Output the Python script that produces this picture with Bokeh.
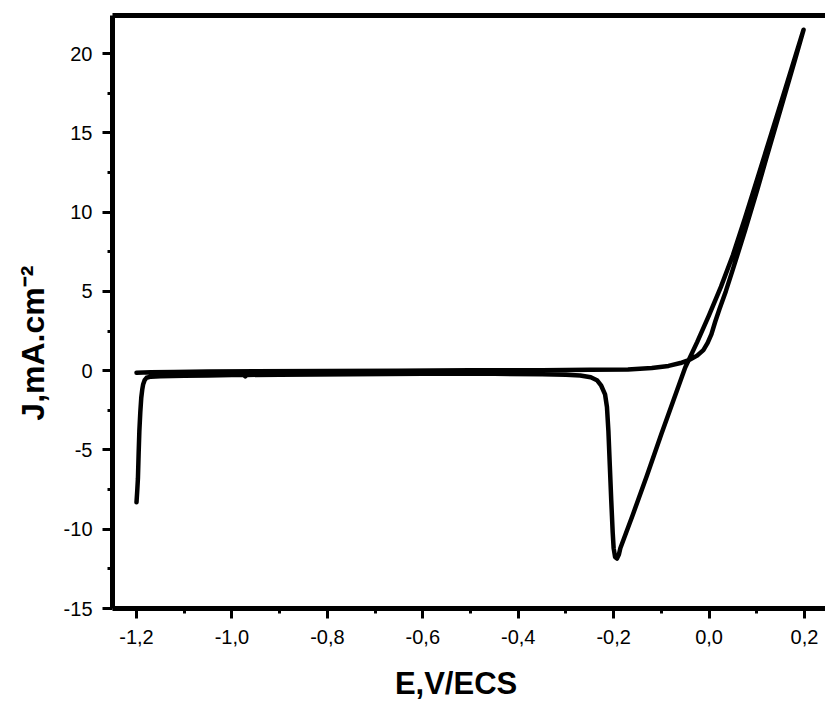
from bokeh.plotting import figure
from bokeh.models import Range1d, FixedTicker, LinearAxis
from bokeh.embed import file_html
from bokeh.resources import INLINE

# ---- data (E in V/ECS, J in mA.cm-2) ----
e_start = [-1.200, -1.1985, -1.197, -1.1955, -1.194, -1.192, -1.190, -1.188, -1.186, -1.183, -1.179, -1.170]
j_start = [-8.3, -7.6, -6.8, -5.2, -3.8, -2.6, -1.7, -1.2, -0.85, -0.6, -0.45, -0.38]

e_low = [-1.15, -1.10, -1.05, -1.0, -0.975, -0.972, -0.969, -0.9, -0.75, -0.6, -0.45, -0.35, -0.30,
         -0.27, -0.248, -0.235, -0.226, -0.218, -0.214, -0.211, -0.208, -0.205, -0.202, -0.200,
         -0.197, -0.193, -0.189]
j_low = [-0.35, -0.32, -0.30, -0.28, -0.27, -0.36, -0.27, -0.25, -0.22, -0.20, -0.20, -0.22, -0.25,
         -0.30, -0.42, -0.60, -0.95, -1.5, -2.3, -3.8, -6.0, -8.2, -10.2, -11.2,
         -11.75, -11.85, -11.6]

e_rise = [-0.186, -0.16, -0.13, -0.10, -0.075, -0.05, -0.025, 0.0, 0.025, 0.05, 0.075, 0.10, 0.13, 0.16, 0.198]
j_rise = [-11.2, -9.1, -6.6, -4.0, -1.9, 0.2, 1.8, 3.5, 5.3, 7.3, 9.6, 12.0, 14.9, 17.8, 21.5]

e_ret = [0.18, 0.15, 0.12, 0.10, 0.075, 0.05, 0.035, 0.022, 0.013, 0.005, -0.003, -0.012, -0.025,
         -0.04, -0.06, -0.085, -0.12, -0.17]
j_ret = [19.6, 16.5, 13.4, 11.3, 8.8, 6.4, 5.0, 3.9, 3.1, 2.3, 1.75, 1.3, 0.95,
         0.70, 0.48, 0.30, 0.17, 0.08]

e_back = [-0.25, -0.35, -0.5, -0.65, -0.8, -0.95, -1.05, -1.12, -1.17, -1.2]
j_back = [0.05, 0.03, 0.02, 0.0, -0.02, -0.04, -0.06, -0.08, -0.10, -0.13]

x_ticks = [-1.2, -1.0, -0.8, -0.6, -0.4, -0.2, 0.0, 0.2]
x_tick_labels = ["-1,2", "-1,0", "-0,8", "-0,6", "-0,4", "-0,2", "0,0", "0,2"]
x_minor = [-1.1, -0.9, -0.7, -0.5, -0.3, -0.1, 0.1]
y_ticks = [-15, -10, -5, 0, 5, 10, 15, 20]
y_tick_labels = ["-15", "-10", "-5", "0", "5", "10", "15", "20"]
y_minor = [-12.5, -7.5, -2.5, 2.5, 7.5, 12.5, 17.5]

x_title = "E,V/ECS"
y_title = "J,mA.cm\u207b\u00b2"

E = e_start + e_low + e_rise + e_ret + e_back
J = j_start + j_low + j_rise + j_ret + j_back

NB = "\u00a0"

p = figure(width=825, height=705, output_backend="svg", toolbar_location=None,
           x_range=Range1d(-1.2503, 0.244), y_range=Range1d(-15, 22.4),
           min_border_left=112, min_border_right=0, min_border_top=15, min_border_bottom=97)
p.outline_line_color = None
p.xgrid.visible = False
p.ygrid.visible = False
p.background_fill_color = "white"
p.border_fill_color = "white"

p.line(E, J, line_width=4.5, line_color="black", line_join="round", line_cap="round")

FONT = "Liberation Sans"
for ax in (p.xaxis[0], p.yaxis[0]):
    ax.axis_line_width = 5
    ax.axis_line_color = "black"
    ax.major_tick_line_width = 3
    ax.minor_tick_line_width = 3
    ax.major_tick_in = 0
    ax.minor_tick_in = 0
    ax.major_tick_out = 10
    ax.minor_tick_out = 5
    ax.major_label_text_font = FONT
    ax.major_label_text_font_size = "20px"
    ax.major_label_text_color = "black"
    ax.axis_label_text_font = FONT
    ax.axis_label_text_font_style = "bold"
    ax.axis_label_text_color = "black"

xa = p.xaxis[0]
xa.ticker = FixedTicker(ticks=x_ticks, minor_ticks=x_minor)
xa.major_label_overrides = {t: l for t, l in zip(x_ticks, x_tick_labels)}
xa.major_label_standoff = 11
xa.axis_label = x_title + NB * 3
xa.axis_label_text_font_size = "31px"
xa.axis_label_standoff = 19

ya = p.yaxis[0]
ya.ticker = FixedTicker(ticks=y_ticks, minor_ticks=y_minor)
ya.major_label_overrides = {t: l for t, l in zip(y_ticks, y_tick_labels)}
ya.major_label_standoff = 10
ya.axis_label = y_title + NB * 7
ya.axis_label_text_font_size = "32px"
ya.axis_label_standoff = 10

top = LinearAxis(ticker=FixedTicker(ticks=[], minor_ticks=[]), major_label_text_font_size="0px",
                 axis_line_width=5, axis_line_color="black", major_tick_out=0, minor_tick_out=0,
                 major_tick_in=0, minor_tick_in=0)
p.add_layout(top, "above")

open("out.html", "w").write(file_html(p, INLINE))
